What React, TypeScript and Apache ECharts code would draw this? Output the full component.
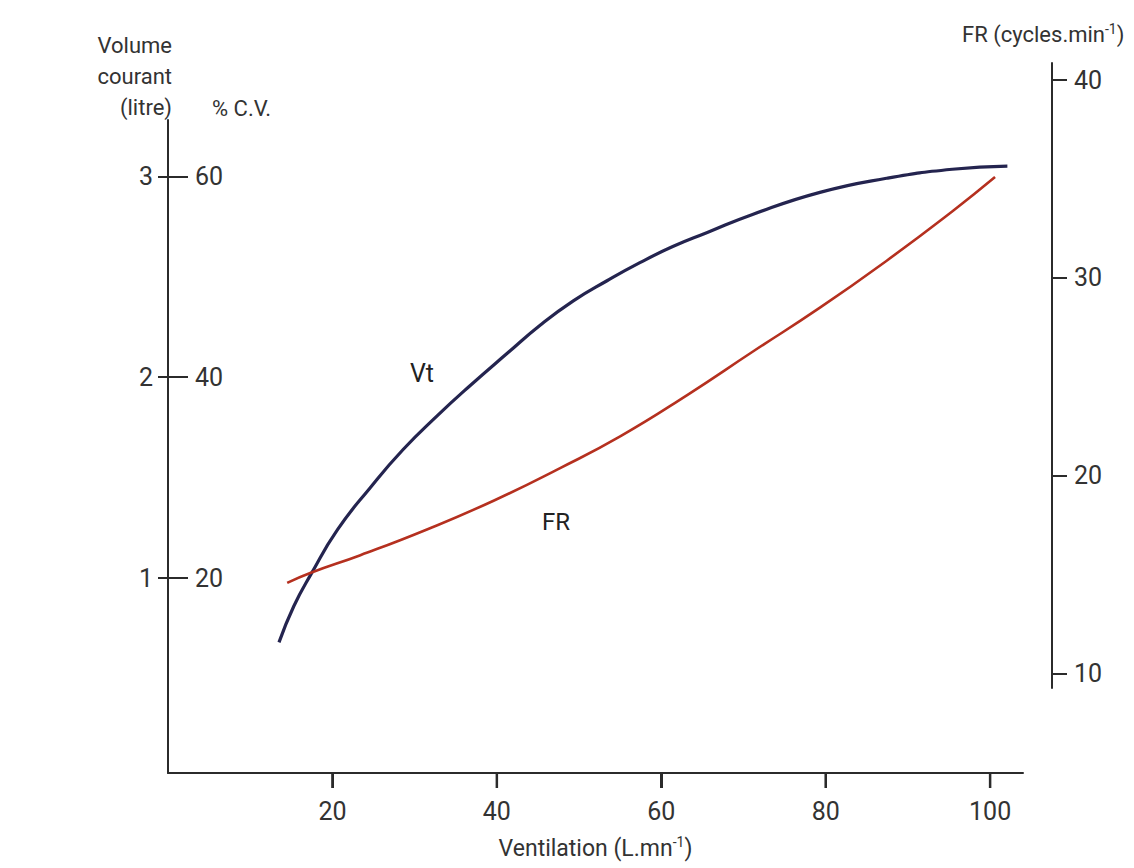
import React, { useEffect, useRef } from "react";
import * as echarts from "echarts";

// Tick labels
const ventilationTicks = [20, 40, 60, 80, 100];
const volumeTicks = [1, 2, 3];
const cvTicks = [20, 40, 60];
const frTicks = [10, 20, 30, 40];

// Vt curve: ventilation (L/min) -> tidal volume (litre)
const vtVentilation = [13.5, 15.3, 17.4, 20.6, 24.6, 28.6, 32.8, 36.8, 41.3, 45.3, 49.3, 53.4, 57.4, 61.4, 65.6, 71.1, 79.3, 87.4, 95.4, 102.1];
const vtVolume = [0.68, 0.86, 1.02, 1.24, 1.45, 1.64, 1.81, 1.96, 2.12, 2.26, 2.38, 2.48, 2.57, 2.65, 2.72, 2.81, 2.92, 2.99, 3.035, 3.05];

// FR curve: ventilation (L/min) -> respiratory frequency (cycles/min)
const frVentilation = [14.5, 17.3, 23.4, 31.5, 39.6, 47.7, 55.0, 63.2, 71.2, 79.3, 87.5, 95.5, 100.6];
const frValues = [14.6, 15.1, 16.0, 17.3, 18.75, 20.4, 22.0, 24.1, 26.3, 28.5, 30.9, 33.4, 35.1];

const FONT = "Roboto, 'Liberation Sans', sans-serif";
const AXIS = "#2b2b2b";
const VOLUME_MIN = 0.03;
const X_TICK_LEN = 15;

export default function App() {
  const ref = useRef<HTMLDivElement>(null);
  useEffect(() => {
    const chart = echarts.init(ref.current!, null, { renderer: "svg" });
    const tickLabel = { color: "#333", fontFamily: FONT, fontSize: 25 };
    const ls = () => ({ color: AXIS, width: 2 });
    const textGraphics = [
      {
        id: "title-volume",
        type: "text",
        x: 172,
        y: 30,
        style: {
          text: "Volume\ncourant\n(litre)",
          align: "right",
          verticalAlign: "top",
          font: `22px ${FONT}`,
          lineHeight: 31,
          fill: "#333",
        },
      },
      {
        id: "title-cv",
        type: "text",
        x: 212,
        y: 108,
        style: { text: "% C.V.", align: "left", verticalAlign: "middle", font: `22px ${FONT}`, fill: "#333" },
      },
      {
        id: "title-fr",
        type: "text",
        x: 962,
        y: 34,
        style: {
          text: "{a|FR (cycles.min}{s|-1}{a|)}",
          align: "left",
          verticalAlign: "middle",
          rich: {
            a: { fontFamily: FONT, fontSize: 22, fill: "#333", lineHeight: 25 },
            s: { fontFamily: FONT, fontSize: 14, fill: "#333", verticalAlign: "top", lineHeight: 14 },
          },
        },
      },
      {
        id: "label-vt",
        type: "text",
        x: 422,
        y: 373,
        style: { text: "Vt", align: "center", verticalAlign: "middle", font: `25px ${FONT}`, fill: "#222" },
      },
      {
        id: "label-fr",
        type: "text",
        x: 556,
        y: 522,
        style: { text: "FR", align: "center", verticalAlign: "middle", font: `24px ${FONT}`, fill: "#222" },
      },
    ];
    chart.setOption({
      animation: false,
      backgroundColor: "#ffffff",
      grid: [
        { left: 168, right: 111, top: 120, bottom: 95 },
        { left: 168, right: 111, top: 63, bottom: 180 },
      ],
      xAxis: [
        {
          type: "value",
          gridIndex: 0,
          position: "bottom",
          min: 0,
          max: 104,
          axisLine: { show: true, onZero: false, lineStyle: ls() },
          axisTick: { show: true, inside: false, customValues: ventilationTicks, length: X_TICK_LEN, lineStyle: ls() },
          axisLabel: { show: true, customValues: ventilationTicks, margin: 26, ...tickLabel },
          splitLine: { show: false },
          name: "{a|Ventilation (L.mn}{s|-1}{a|)}",
          nameLocation: "middle",
          nameGap: 62,
          nameTextStyle: {
            rich: {
              a: { fontFamily: FONT, fontSize: 23, color: "#333", lineHeight: 26 },
              s: { fontFamily: FONT, fontSize: 14, color: "#333", verticalAlign: "top", lineHeight: 14 },
            },
          },
        },
        {
          type: "value",
          gridIndex: 1,
          min: 0,
          max: 104,
          show: false,
          axisLine: { onZero: false },
        },
      ],
      yAxis: [
        {
          type: "value",
          gridIndex: 0,
          position: "left",
          min: VOLUME_MIN,
          max: 3.28,
          axisLine: { show: true, onZero: false, lineStyle: ls() },
          axisTick: { show: false },
          axisLabel: { show: true, customValues: volumeTicks, margin: 15, ...tickLabel },
          splitLine: { show: false },
        },
        {
          type: "value",
          gridIndex: 0,
          position: "left",
          min: 0.6,
          max: 65.6,
          axisLine: { show: false, onZero: false },
          axisTick: { show: true, inside: true, customValues: cvTicks, length: 20, lineStyle: ls() },
          axisLabel: { show: true, inside: true, customValues: cvTicks, margin: 27, ...tickLabel },
          splitLine: { show: false },
        },
        {
          type: "value",
          gridIndex: 1,
          position: "right",
          offset: 29,
          min: 9.29,
          max: 40.86,
          axisLine: { show: true, onZero: false, lineStyle: ls() },
          axisTick: { show: true, inside: false, customValues: frTicks, length: 15, lineStyle: ls() },
          axisLabel: { show: true, customValues: frTicks, margin: 22, ...tickLabel },
          splitLine: { show: false },
        },
        {
          // outer tick marks of the volume axis
          type: "value",
          gridIndex: 0,
          position: "left",
          offset: 10,
          min: VOLUME_MIN,
          max: 3.28,
          axisLine: { show: false, onZero: false },
          axisTick: { show: true, inside: true, customValues: volumeTicks, length: 10, lineStyle: ls() },
          axisLabel: { show: false },
          splitLine: { show: false },
        },
      ],
      series: [
        {
          name: "Vt",
          type: "line",
          xAxisIndex: 0,
          yAxisIndex: 0,
          smooth: 0.5,
          showSymbol: false,
          lineStyle: { color: "#24244f", width: 3.2 },
          data: vtVentilation.map((v, i) => [v, vtVolume[i]]),
        },
        {
          name: "FR",
          type: "line",
          xAxisIndex: 1,
          yAxisIndex: 2,
          smooth: 0.5,
          showSymbol: false,
          lineStyle: { color: "#b5301f", width: 2.6 },
          data: frVentilation.map((v, i) => [v, frValues[i]]),
        },
      ],
      graphic: textGraphics,
    });

    // Ventilation tick marks placed through the x axis scale, hanging below the axis line
    const tickRects = ventilationTicks.map((v, i) => {
      const p = chart.convertToPixel({ xAxisIndex: 0, yAxisIndex: 0 }, [v, VOLUME_MIN]) as number[];
      return {
        id: `xtick-${i}`,
        type: "rect",
        z: 50,
        shape: { x: p[0] - 1.25, y: p[1], width: 2.5, height: X_TICK_LEN },
        style: { fill: AXIS },
      };
    });
    chart.setOption({ graphic: [...textGraphics, ...tickRects] });

    return () => chart.dispose();
  }, []);
  return <div ref={ref} style={{ position: "fixed", left: 0, top: 0, width: 1134, height: 868 }} />;
}
